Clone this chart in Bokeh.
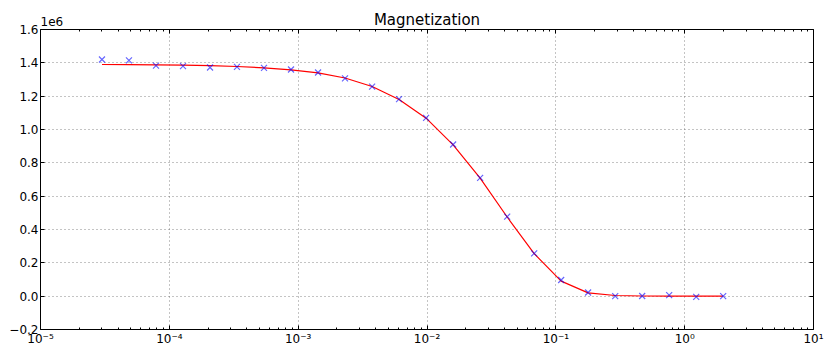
from bokeh.plotting import figure
from bokeh.models import (LogAxis, LinearAxis, FixedTicker, Range1d, Label)
from bokeh.embed import file_html
from bokeh.resources import INLINE

# ---- data ----
field = [3.0e-5, 4.86e-5, 7.88e-5, 1.277e-4, 2.07e-4, 3.35e-4, 5.43e-4, 8.80e-4,
         1.427e-3, 2.31e-3, 3.75e-3, 6.07e-3, 9.84e-3, 1.595e-2, 2.585e-2, 4.19e-2,
         6.79e-2, 0.110, 0.178, 0.289, 0.468, 0.758, 1.229, 1.99]
measured = [1.420e6, 1.415e6, 1.383e6, 1.380e6, 1.372e6, 1.376e6, 1.370e6, 1.360e6,
            1.342e6, 1.307e6, 1.257e6, 1.182e6, 1.070e6, 0.910e6, 0.710e6, 0.477e6,
            0.257e6, 0.097e6, 0.022e6, 0.000e6, 0.001e6, 0.006e6, -0.004e6, 0.000e6]
fit = [1.390e6, 1.389e6, 1.388e6, 1.386e6, 1.383e6, 1.378e6, 1.370e6, 1.358e6,
       1.340e6, 1.309e6, 1.258e6, 1.180e6, 1.068e6, 0.908e6, 0.708e6, 0.475e6,
       0.255e6, 0.090e6, 0.020e6, 0.004e6, 0.001e6, 0.000e6, 0.000e6, 0.000e6]

x_ticks = [1e-5, 1e-4, 1e-3, 1e-2, 1e-1, 1e0, 1e1]
x_tick_labels = ["10\u207b\u2075", "10\u207b\u2074", "10\u207b\u00b3", "10\u207b\u00b2",
                 "10\u207b\u00b9", "10\u2070", "10\u00b9"]
y_ticks = [-200000, 0, 200000, 400000, 600000, 800000, 1000000, 1200000, 1400000, 1600000]
y_tick_labels = ["\u22120.2", "0.0", "0.2", "0.4", "0.6", "0.8", "1.0", "1.2", "1.4", "1.6"]
offset_text = "1e6"
title_text = "Magnetization"

FONT = "DejaVu Sans"
W, H = 827, 349
BL, BR, BT, BB = 40, 14, 29, 20

x_minor = [m * d for d in x_ticks[:-1] for m in range(2, 10)]
xticker = FixedTicker(ticks=x_ticks, minor_ticks=x_minor)
yticker = FixedTicker(ticks=y_ticks)

p = figure(width=W, height=H, x_axis_type="log",
           x_range=Range1d(1e-5, 10), y_range=Range1d(-200000, 1600000),
           output_backend="svg", toolbar_location=None,
           min_border_left=BL, min_border_right=BR, min_border_top=BT, min_border_bottom=BB)

p.outline_line_color = "black"
p.outline_line_width = 1
p.outline_line_alpha = 1.0

xlabels = dict(zip(x_ticks, x_tick_labels))
ylabels = dict(zip(y_ticks, y_tick_labels))

def style_axis(ax, show_labels):
    ax.axis_line_color = None
    ax.major_tick_in = 4
    ax.major_tick_out = 0
    ax.minor_tick_in = 2
    ax.minor_tick_out = 0
    ax.major_tick_line_color = "black"
    ax.minor_tick_line_color = "black"
    ax.major_label_text_font = FONT
    ax.major_label_text_font_size = "12px" if show_labels else "1px"
    ax.major_label_text_color = "black" if show_labels else None
    ax.major_label_standoff = 2 if show_labels else 0

xa = p.xaxis[0]
xa.ticker = xticker
xa.major_label_overrides = xlabels
style_axis(xa, True)

ya = p.yaxis[0]
ya.ticker = yticker
ya.major_label_overrides = ylabels
style_axis(ya, True)
ya.minor_tick_in = 0

top = LogAxis(ticker=xticker)
style_axis(top, False)
p.add_layout(top, "above")
right = LinearAxis(ticker=yticker)
style_axis(right, False)
right.minor_tick_in = 0
p.add_layout(right, "right")

for g in (p.xgrid[0], p.ygrid[0]):
    g.grid_line_color = "#555555"
    g.grid_line_alpha = 0.7
    g.grid_line_dash = "1 3"
    g.grid_line_width = 1
p.xgrid[0].ticker = xticker
p.ygrid[0].ticker = yticker

p.line(field, fit, line_color="red", line_width=1.2)
p.scatter(field, measured, marker="x", size=8.5, line_color="#0000ff",
          line_alpha=0.6, line_width=1.2)

p.add_layout(Label(x=0, y=4, x_units="screen", y_units="screen", text=offset_text,
                   text_font=FONT, text_font_size="12px", text_color="black",
                   text_line_height=0.9,
                   text_baseline="bottom", text_align="left"), "above")

p.add_layout(Label(x=(W - BL - BR) / 2, y=-8, x_units="screen", y_units="screen",
                   text=title_text, text_font=FONT, text_font_size="15px",
                   text_color="black", text_line_height=0.9,
                   text_baseline="bottom", text_align="center"), "above")

open("out.html", "w").write(file_html(p, INLINE))
